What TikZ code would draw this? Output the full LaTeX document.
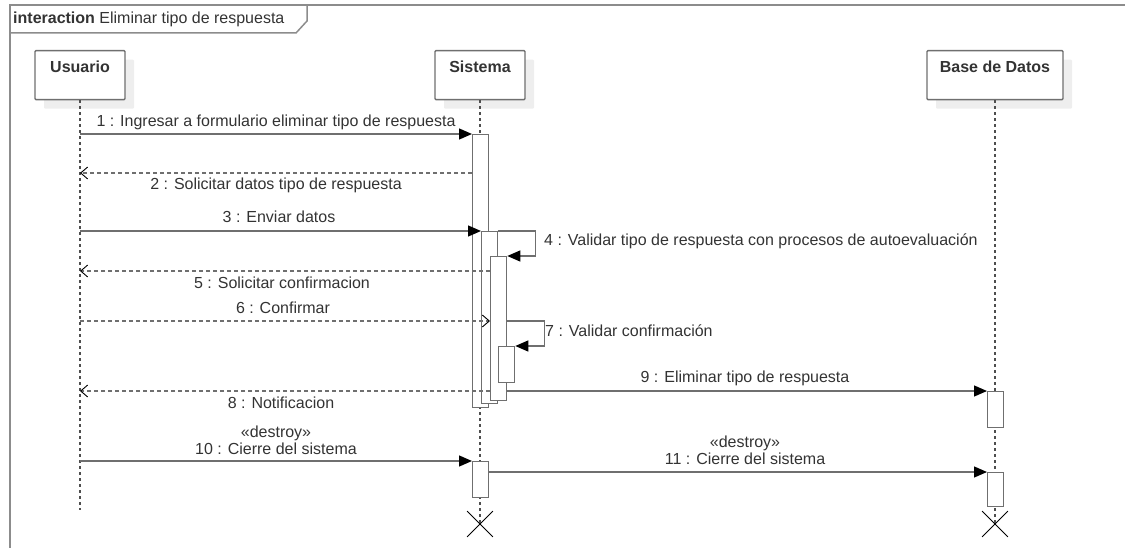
\documentclass[tikz,border=0pt]{standalone}
\usepackage{fontspec}
\setmainfont{Liberation Sans}
\usetikzlibrary{arrows.meta,shadows,shapes.misc,positioning}

\definecolor{umlline}{HTML}{6F6F6F}
\definecolor{umltext}{HTML}{333333}
\definecolor{umlshadow}{HTML}{EEEEEE}

\tikzset{
  head/.style={rectangle, draw=umlline, line width=1.3pt, rounded corners=1pt, fill=white,
    minimum width=90pt, text height=16pt, text depth=21pt, inner ysep=6pt,
    font=\fontsize{16}{17}\selectfont\bfseries, text=umltext, anchor=north,
    drop shadow={shadow xshift=9pt, shadow yshift=-9pt, fill=umlshadow, opacity=1}},
  act/.style={rectangle, draw=umlline, line width=1.3pt, fill=white, minimum width=16pt,
    inner sep=0pt, anchor=north west},
  lifeline/.style={draw=umlline!70!black, line width=1.3pt, dash pattern=on 3pt off 3pt},
  msg/.style={draw=umlline, line width=1.3pt, -{Triangle[length=13pt,width=11pt,color=black]}},
  ret/.style={draw=umlline, line width=1.3pt, dash pattern=on 4pt off 3pt,
    -{Straight Barb[length=7pt,width=12pt,color=black,line width=0.9pt]}},
  lbl/.style={text=umltext, inner sep=0pt, align=center},
  xmark/.style={cross out, draw=black, line width=0.8pt, minimum size=25pt, inner sep=0pt},
  frame/.style={draw=umlline!80, line width=1.5pt}
}

\begin{document}
\begin{tikzpicture}[x=1pt, y=-1pt, font=\fontsize{16}{17}\selectfont]
  \useasboundingbox (0,0) rectangle (1125,548);

  % Frame
  \draw[frame] (1125,5) -- (10,5) -- (10,548);
  \draw[frame] (10,33) -- (296,33) -- (307,21) -- (307,5);
  \node (title) [lbl, anchor=west] at (13,19) {\textbf{interaction} Eliminar tipo de respuesta};

  % Heads
  \node (usr) [head] at (80,50) {Usuario};
  \node (sis) [head] at (480,50) {Sistema};
  \node (bd) [head, minimum width=136pt] at (995,50) {Base de Datos};

  % Lifelines
  \coordinate (usrEnd) at (80,510);
  \node (sisX) [xmark] at (480,524) {};
  \node (bdX) [xmark] at (995,524) {};
  \draw[lifeline] (usr.south) -- (usrEnd);
  \draw[lifeline] (sis.south) -- (sisX.center);
  \draw[lifeline] (bd.south) -- (bdX.center);

  % Activations
  \node (a1) [act, minimum height=273pt] at (472,134) {};
  \node (a2) [act, minimum height=172pt] at (481,231) {};
  \node (a3) [act, minimum height=144pt] at (490,256) {};
  \node (a4) [act, minimum height=36pt] at (498,346) {};
  \node (a5) [act, minimum height=36pt] at (472,461) {};
  \node (b1) [act, minimum height=36pt] at (987,391) {};
  \node (b2) [act, minimum height=34pt] at (987,472) {};

  % Points on the Usuario lifeline
  \coordinate (m1) at (80,134);
  \coordinate (m2) at (80,173);
  \coordinate (m3) at (80,231);
  \coordinate (m5) at (80,271);
  \coordinate (m6) at (80,321);
  \coordinate (m8) at (80,391);
  \coordinate (m10) at (80,461);

  % Messages
  \draw[msg] (m1) -- (a1.north west);
  \draw[ret] (a1.west |- m2) -- (m2);
  \draw[msg] (m3) -- (a2.north west);
  \draw[msg] (a2.north east) -- ++(37,0) |- (a3.north east);
  \draw[ret] (a3.west |- m5) -- (m5);
  \draw[ret] (m6) -- (a3.west |- m6);
  \draw[msg] (a3.east |- m6) -- ++(37,0) |- (a4.north east);
  \draw[ret] (a3.west |- m8) -- (m8);
  \draw[msg] (a3.east |- b1.north) -- (b1.north west);
  \draw[msg] (m10) -- (a5.north west);
  \draw[msg] (a5.east |- b2.north) -- (b2.north west);

  % Labels
  \node (l1) [lbl] at (276,122) {1 : Ingresar a formulario eliminar tipo de respuesta};
  \node (l2) [lbl] at (276,185) {2 : Solicitar datos tipo de respuesta};
  \node (l3) [lbl] at (279,217) {3 : Enviar datos};
  \node (l4) [lbl, anchor=west] at (544,241) {4 : Validar tipo de respuesta con procesos de autoevaluación};
  \node (l5) [lbl] at (282,283) {5 : Solicitar confirmacion};
  \node (l6) [lbl] at (283,308) {6 : Confirmar};
  \node (l7) [lbl, anchor=west] at (545,331) {7 : Validar confirmación};
  \node (l8) [lbl] at (281,403) {8 : Notificacion};
  \node (l9) [lbl] at (745,378) {9 : Eliminar tipo de respuesta};
  \node (l10) [lbl] at (276,440) {«destroy»\\10 : Cierre del sistema};
  \node (l11) [lbl] at (745,450) {«destroy»\\11 : Cierre del sistema};
\end{tikzpicture}
\end{document}
